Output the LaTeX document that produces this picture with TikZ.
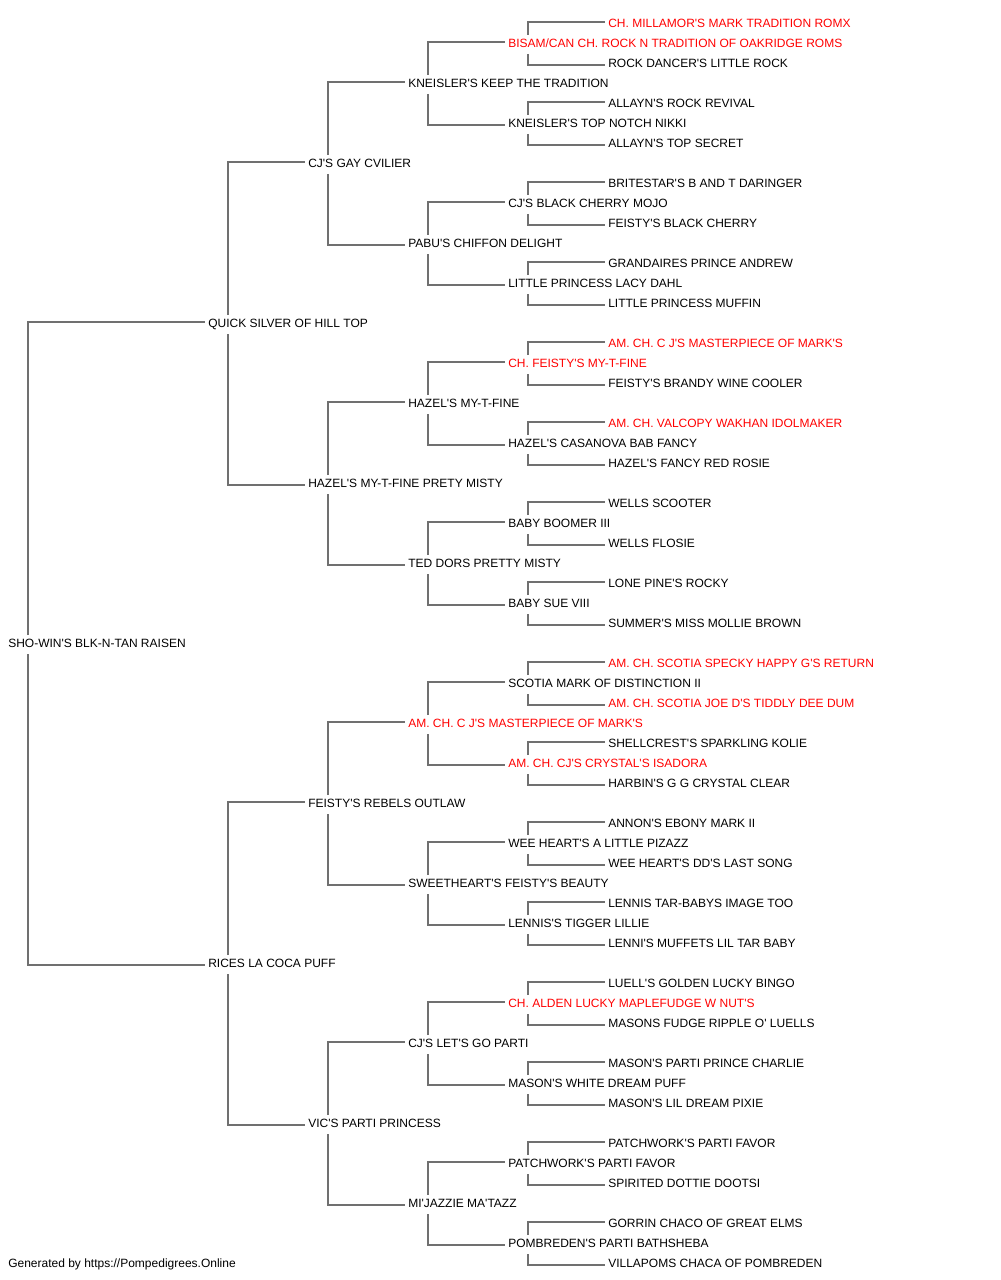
\documentclass[tikz,border=0pt]{standalone}
\usepackage{fontspec}
\setmainfont{Liberation Sans}[Ligatures=TeXOff]
\usetikzlibrary{calc}
\definecolor{lnk}{HTML}{707070}
\definecolor{champ}{HTML}{FF0000}
\newcommand\pedlink[3]{%
  \draw[conn] ($(n#1.west)+(20,-8)$) |- ($(n#2.west)+(-3,-1)$);
  \draw[conn] ($(n#1.west)+(20,11)$) |- ($(n#3.west)+(-3,2)$);}
\begin{document}
\begin{tikzpicture}[x=0.75pt,y=-0.75pt,
  nm/.style={anchor=west,inner sep=0pt,text height=6.45pt,text depth=0pt,font=\fontsize{9pt}{10pt}\selectfont,text=black},
  ch/.style={nm,text=champ},
  conn/.style={draw=lnk,line width=1.5pt}]
\useasboundingbox (0,0) rectangle (1000,1280);
% generation 1
\node[nm] (n31) at (8,643) {SHO-WIN'S BLK-N-TAN RAISEN};
% generation 2
\node[nm] (n15) at (208,323) {QUICK SILVER OF HILL TOP};
\node[nm] (n47) at (208,963) {RICES LA COCA PUFF};
% generation 3
\node[nm] (n7) at (308,163) {CJ'S GAY CVILIER};
\node[nm] (n23) at (308,483) {HAZEL'S MY-T-FINE PRETY MISTY};
\node[nm] (n39) at (308,803) {FEISTY'S REBELS OUTLAW};
\node[nm] (n55) at (308,1123) {VIC'S PARTI PRINCESS};
% generation 4
\node[nm] (n3) at (408,83) {KNEISLER'S KEEP THE TRADITION};
\node[nm] (n11) at (408,243) {PABU'S CHIFFON DELIGHT};
\node[nm] (n19) at (408,403) {HAZEL'S MY-T-FINE};
\node[nm] (n27) at (408,563) {TED DORS PRETTY MISTY};
\node[ch] (n35) at (408,723) {AM. CH. C J'S MASTERPIECE OF MARK'S};
\node[nm] (n43) at (408,883) {SWEETHEART'S FEISTY'S BEAUTY};
\node[nm] (n51) at (408,1043) {CJ'S LET'S GO PARTI};
\node[nm] (n59) at (408,1203) {MI'JAZZIE MA'TAZZ};
% generation 5
\node[ch] (n1) at (508,43) {BISAM/CAN CH. ROCK N TRADITION OF OAKRIDGE ROMS};
\node[nm] (n5) at (508,123) {KNEISLER'S TOP NOTCH NIKKI};
\node[nm] (n9) at (508,203) {CJ'S BLACK CHERRY MOJO};
\node[nm] (n13) at (508,283) {LITTLE PRINCESS LACY DAHL};
\node[ch] (n17) at (508,363) {CH. FEISTY'S MY-T-FINE};
\node[nm] (n21) at (508,443) {HAZEL'S CASANOVA BAB FANCY};
\node[nm] (n25) at (508,523) {BABY BOOMER III};
\node[nm] (n29) at (508,603) {BABY SUE VIII};
\node[nm] (n33) at (508,683) {SCOTIA MARK OF DISTINCTION II};
\node[ch] (n37) at (508,763) {AM. CH. CJ'S CRYSTAL'S ISADORA};
\node[nm] (n41) at (508,843) {WEE HEART'S A LITTLE PIZAZZ};
\node[nm] (n45) at (508,923) {LENNIS'S TIGGER LILLIE};
\node[ch] (n49) at (508,1003) {CH. ALDEN LUCKY MAPLEFUDGE W NUT'S};
\node[nm] (n53) at (508,1083) {MASON'S WHITE DREAM PUFF};
\node[nm] (n57) at (508,1163) {PATCHWORK'S PARTI FAVOR};
\node[nm] (n61) at (508,1243) {POMBREDEN'S PARTI BATHSHEBA};
% generation 6
\node[ch] (n0) at (608,23) {CH. MILLAMOR'S MARK TRADITION ROMX};
\node[nm] (n2) at (608,63) {ROCK DANCER'S LITTLE ROCK};
\node[nm] (n4) at (608,103) {ALLAYN'S ROCK REVIVAL};
\node[nm] (n6) at (608,143) {ALLAYN'S TOP SECRET};
\node[nm] (n8) at (608,183) {BRITESTAR'S B AND T DARINGER};
\node[nm] (n10) at (608,223) {FEISTY'S BLACK CHERRY};
\node[nm] (n12) at (608,263) {GRANDAIRES PRINCE ANDREW};
\node[nm] (n14) at (608,303) {LITTLE PRINCESS MUFFIN};
\node[ch] (n16) at (608,343) {AM. CH. C J'S MASTERPIECE OF MARK'S};
\node[nm] (n18) at (608,383) {FEISTY'S BRANDY WINE COOLER};
\node[ch] (n20) at (608,423) {AM. CH. VALCOPY WAKHAN IDOLMAKER};
\node[nm] (n22) at (608,463) {HAZEL'S FANCY RED ROSIE};
\node[nm] (n24) at (608,503) {WELLS SCOOTER};
\node[nm] (n26) at (608,543) {WELLS FLOSIE};
\node[nm] (n28) at (608,583) {LONE PINE'S ROCKY};
\node[nm] (n30) at (608,623) {SUMMER'S MISS MOLLIE BROWN};
\node[ch] (n32) at (608,663) {AM. CH. SCOTIA SPECKY HAPPY G'S RETURN};
\node[ch] (n34) at (608,703) {AM. CH. SCOTIA JOE D'S TIDDLY DEE DUM};
\node[nm] (n36) at (608,743) {SHELLCREST'S SPARKLING KOLIE};
\node[nm] (n38) at (608,783) {HARBIN'S G G CRYSTAL CLEAR};
\node[nm] (n40) at (608,823) {ANNON'S EBONY MARK II};
\node[nm] (n42) at (608,863) {WEE HEART'S DD'S LAST SONG};
\node[nm] (n44) at (608,903) {LENNIS TAR-BABYS IMAGE TOO};
\node[nm] (n46) at (608,943) {LENNI'S MUFFETS LIL TAR BABY};
\node[nm] (n48) at (608,983) {LUELL'S GOLDEN LUCKY BINGO};
\node[nm] (n50) at (608,1023) {MASONS FUDGE RIPPLE O' LUELLS};
\node[nm] (n52) at (608,1063) {MASON'S PARTI PRINCE CHARLIE};
\node[nm] (n54) at (608,1103) {MASON'S LIL DREAM PIXIE};
\node[nm] (n56) at (608,1143) {PATCHWORK'S PARTI FAVOR};
\node[nm] (n58) at (608,1183) {SPIRITED DOTTIE DOOTSI};
\node[nm] (n60) at (608,1223) {GORRIN CHACO OF GREAT ELMS};
\node[nm] (n62) at (608,1263) {VILLAPOMS CHACA OF POMBREDEN};
% footer
\node[nm] (foot) at (8,1263) {Generated by https://Pompedigrees.Online};
% connectors
\pedlink{31}{15}{47}
\pedlink{15}{7}{23}
\pedlink{47}{39}{55}
\pedlink{7}{3}{11}
\pedlink{23}{19}{27}
\pedlink{39}{35}{43}
\pedlink{55}{51}{59}
\pedlink{3}{1}{5}
\pedlink{11}{9}{13}
\pedlink{19}{17}{21}
\pedlink{27}{25}{29}
\pedlink{35}{33}{37}
\pedlink{43}{41}{45}
\pedlink{51}{49}{53}
\pedlink{59}{57}{61}
\pedlink{1}{0}{2}
\pedlink{5}{4}{6}
\pedlink{9}{8}{10}
\pedlink{13}{12}{14}
\pedlink{17}{16}{18}
\pedlink{21}{20}{22}
\pedlink{25}{24}{26}
\pedlink{29}{28}{30}
\pedlink{33}{32}{34}
\pedlink{37}{36}{38}
\pedlink{41}{40}{42}
\pedlink{45}{44}{46}
\pedlink{49}{48}{50}
\pedlink{53}{52}{54}
\pedlink{57}{56}{58}
\pedlink{61}{60}{62}
\end{tikzpicture}
\end{document}
